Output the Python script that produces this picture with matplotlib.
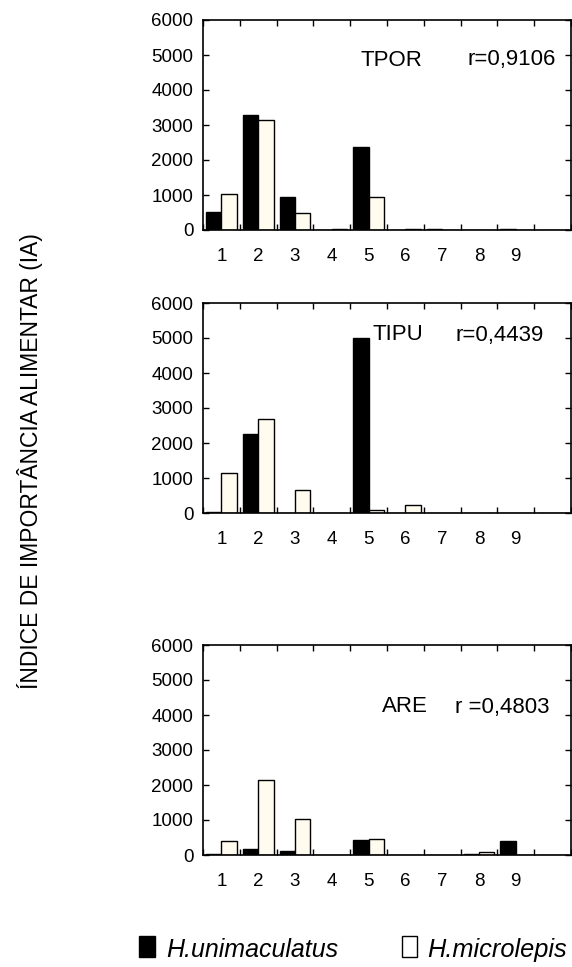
import matplotlib
matplotlib.use("Agg")
import matplotlib.pyplot as plt
import numpy as np
from matplotlib.patches import Rectangle

plt.rcParams['font.family'] = ['Liberation Sans', 'DejaVu Sans']

categories = ['1', '2', '3', '4', '5', '6', '7', '8', '9', '']
panels = ['TPOR', 'TIPU', 'ARE']
r_labels = ['r=0,9106', 'r=0,4439', 'r =0,4803']
uni_tpor = [520, 3295, 955, 10, 2366, 5, 40, 5, 40, 0]
mic_tpor = [1020, 3153, 490, 25, 946, 15, 5, 5, 5, 0]
uni_tipu = [30, 2261, 0, 0, 4995, 0, 0, 0, 0, 0]
mic_tipu = [1140, 2680, 665, 0, 80, 218, 0, 0, 0, 0]
uni_are = [40, 160, 124, 0, 420, 0, 0, 40, 390, 0]
mic_are = [410, 2152, 1030, 0, 448, 0, 0, 76, 0, 0]
yticks = [0, 1000, 2000, 3000, 4000, 5000, 6000]

uni_all = [uni_tpor, uni_tipu, uni_are]
mic_all = [mic_tpor, mic_tipu, mic_are]

W, H = 572, 967
fig = plt.figure(figsize=(W/100, H/100), dpi=100)

# axes rectangles in pixels: (left, top, right, bottom)
rects = [(203, 20, 571, 230), (203, 303, 571, 513), (203, 645, 571, 855)]
ann_pos = [((391, 60), (512, 60)), ((398, 335), (500, 335)), ((405, 707), (502, 707))]

black = '#000000'
cream = '#FFFBEE'
bw = 0.42
x = np.arange(len(categories)) + 0.5

for i, (l, t, r, b) in enumerate(rects):
    ax = fig.add_axes([l/W, 1 - b/H, (r-l)/W, (b-t)/H])
    ax.bar(x - bw/2, uni_all[i], width=bw, color=black, edgecolor='black', linewidth=1.0)
    ax.bar(x + bw/2, mic_all[i], width=bw, color=cream, edgecolor='black', linewidth=1.0)
    ax.set_xlim(0, len(categories))
    ax.set_ylim(0, 6000)
    ax.set_yticks(yticks)
    ax.set_yticklabels([str(v) for v in yticks], fontsize=13.5)
    ax.set_xticks(np.arange(0, len(categories) + 1))
    ax.set_xticklabels([])
    ax.set_xticks(x, minor=True)
    ax.set_xticklabels(categories, minor=True, fontsize=13.5)
    ax.tick_params(axis='x', which='minor', length=0, pad=13)
    ax.tick_params(axis='both', which='major', direction='in', length=4, width=1,
                   top=True, right=True)
    ax.tick_params(axis='y', pad=7)
    for s in ax.spines.values():
        s.set_linewidth(1.2)
    (tx, ty), (rx, ry) = ann_pos[i]
    fig.text(tx/W, 1 - ty/H, panels[i], fontsize=16, ha='center', va='center')
    fig.text(rx/W, 1 - ry/H, r_labels[i], fontsize=16, ha='center', va='center')

fig.text(30/W, 1 - 461/H, 'ÍNDICE DE IMPORTÂNCIA ALIMENTAR (IA)', rotation=90,
         fontsize=16.5, ha='center', va='center')

# legend
fig.patches.append(Rectangle((139/W, 1 - 957/H), 16/W, 21/H, transform=fig.transFigure,
                             facecolor=black, edgecolor='black', linewidth=1))
fig.text(166/W, 1 - 957/H, 'H.unimaculatus', fontsize=18, style='italic', va='baseline')
fig.patches.append(Rectangle((402/W, 1 - 956.5/H), 15/W, 20.5/H, transform=fig.transFigure,
                             facecolor='white', edgecolor='black', linewidth=1))
fig.text(427/W, 1 - 957/H, 'H.microlepis', fontsize=18.3, style='italic', va='baseline')

fig.savefig('out.png', dpi=100)
